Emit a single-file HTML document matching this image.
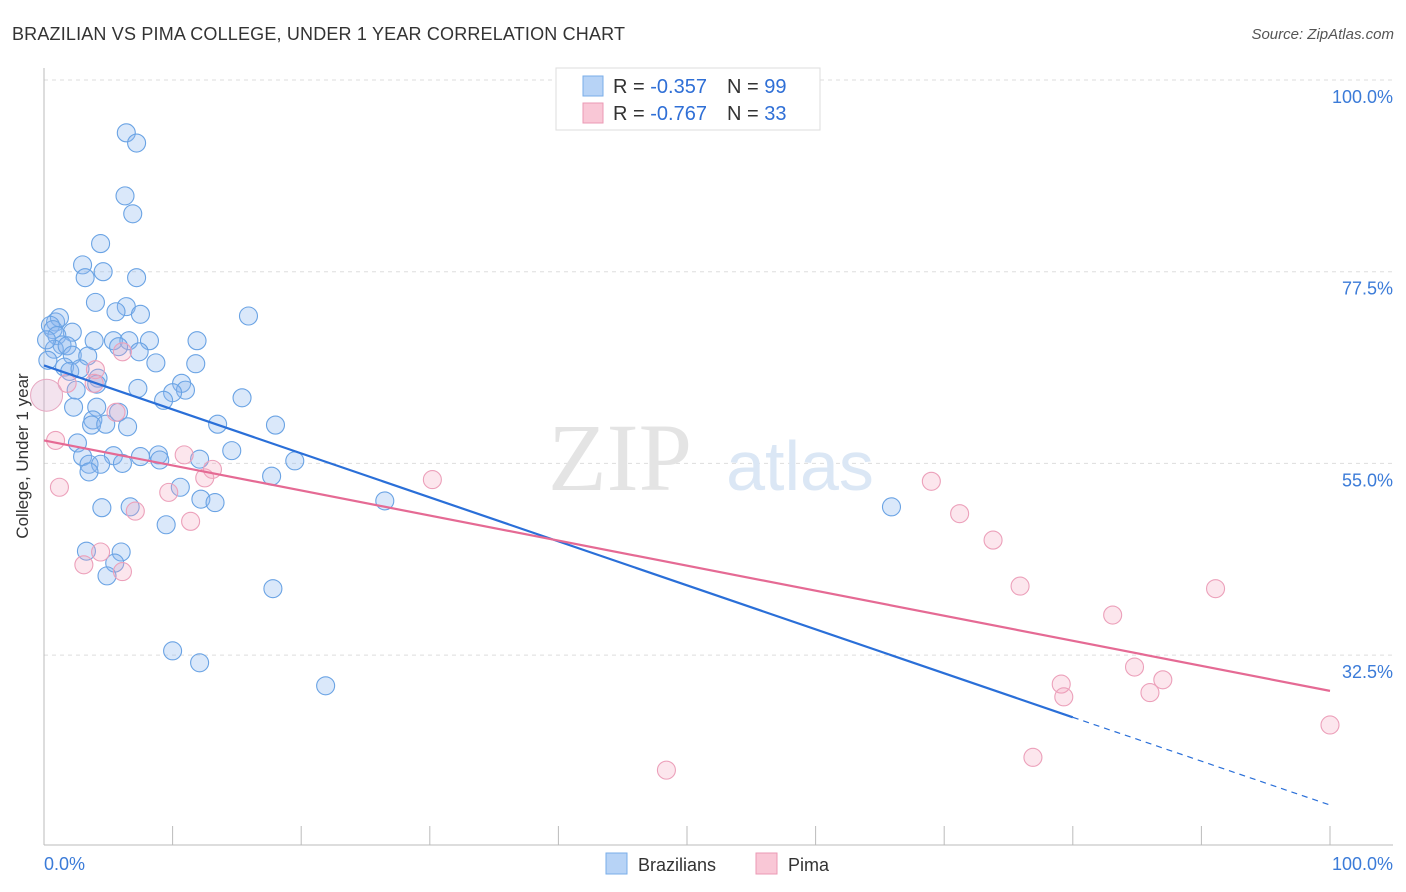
<!DOCTYPE html>
<html><head><meta charset="utf-8"><style>
body{margin:0;background:#fff;font-family:"Liberation Sans",sans-serif}
svg{display:block}
</style></head><body>
<svg id="chart" width="1406" height="892" xmlns="http://www.w3.org/2000/svg">
<text x="12" y="40" font-size="18" fill="#333" textLength="613">BRAZILIAN VS PIMA COLLEGE, UNDER 1 YEAR CORRELATION CHART</text>
<text x="1394" y="39" font-size="15" fill="#555" text-anchor="end" font-style="italic">Source: ZipAtlas.com</text>
<g id="grid"></g>
<text x="620" y="490" font-size="96" font-family="Liberation Serif,serif" fill="#e4e4e4" text-anchor="middle">ZIP</text>
<text x="800" y="490" font-size="70" fill="#dbe7f5" text-anchor="middle">atlas</text>
<g id="axes"></g>
<g id="pts"></g>
<g id="lines"></g>
<text x="28" y="456" font-size="17" fill="#333" text-anchor="middle" transform="rotate(-90 28 456)">College, Under 1 year</text>
<g>
<rect x="556" y="68" width="264" height="62" fill="#fff" stroke="#ddd"/>
<rect x="583" y="76" width="20" height="20" fill="#b7d3f6" stroke="#7aaee8"/>
<rect x="583" y="103" width="20" height="20" fill="#f9c7d6" stroke="#eb9ab4"/>
<text x="613" y="93" font-size="20" fill="#333">R = <tspan fill="#2f6fd6">-0.357</tspan><tspan dx="20">N = </tspan><tspan fill="#2f6fd6">99</tspan></text>
<text x="613" y="120" font-size="20" fill="#333">R = <tspan fill="#2f6fd6">-0.767</tspan><tspan dx="20">N = </tspan><tspan fill="#2f6fd6">33</tspan></text>
</g>
<g>
<rect x="606" y="853" width="21" height="21" fill="#b7d3f6" stroke="#7aaee8"/>
<text x="638" y="871" font-size="18" fill="#333">Brazilians</text>
<rect x="756" y="853" width="21" height="21" fill="#f9c7d6" stroke="#eb9ab4"/>
<text x="788" y="871" font-size="18" fill="#333">Pima</text>
</g>
</svg>
<script>
const yTicks=[100,77.5,55,32.5];
const yTickLabels=["100.0%","77.5%","55.0%","32.5%"];
const xTickLabels=["0.0%","100.0%"];
const brazX=[6.4,7.2,6.3,6.9,4.4,3.0,4.6,3.2,7.2,4.0,6.4,5.6,7.5,15.9,0.9,1.2,0.5,0.7,2.2,1.0,1.4,3.9,5.4,6.6,8.2,11.9,0.8,1.8,5.8,7.4,2.2,3.4,11.8,8.7,1.6,2.0,2.8,4.2,4.1,2.5,7.3,10.7,11.0,10.0,9.3,15.4,2.3,4.1,5.8,3.8,3.7,4.8,6.5,13.5,18.0,2.6,14.6,3.0,5.4,7.5,8.9,3.5,4.4,6.1,9.0,12.1,19.5,3.5,17.7,10.6,12.2,13.3,4.5,6.7,26.5,9.5,65.9,3.3,6.0,5.5,4.9,17.8,10.0,12.1,21.9,0.2,0.3];
const brazY=[93.8,92.6,86.4,84.3,80.8,78.3,77.5,76.8,76.8,73.9,73.4,72.8,72.5,72.3,71.6,72.1,71.2,70.7,70.4,70.0,68.9,69.4,69.4,69.4,69.4,69.4,68.4,68.8,68.7,68.1,67.7,67.6,66.7,66.8,66.3,65.8,66.1,65.0,64.3,63.6,63.8,64.4,63.6,63.3,62.4,62.7,61.6,61.6,61.0,60.1,59.5,59.6,59.3,59.6,59.5,57.4,56.5,55.8,55.9,55.8,56.0,54.9,54.9,55.0,55.4,55.5,55.3,54.0,53.5,52.2,50.8,50.4,49.8,49.9,50.6,47.8,49.9,44.7,44.6,43.3,41.8,40.3,33.0,31.6,28.9,69.5,67.1];
const pimaX=[0.9,1.2,3.1,4.4,6.1,1.8,4.0,5.6,6.1,3.9,7.1,9.7,10.9,13.1,12.5,11.4,30.2,48.4,69.0,71.2,73.8,75.9,76.9,79.1,79.3,83.1,84.8,86.0,87.0,91.1,100];
const pimaY=[57.7,52.2,43.1,44.6,42.3,64.4,66.0,61.0,68.1,64.4,49.4,51.6,56.0,54.3,53.3,48.2,53.1,19.0,52.9,49.1,46.0,40.6,20.5,29.1,27.6,37.2,31.1,28.1,29.6,40.3,24.3];
const brazTrend=[66.5,25.2,14.9];
const pimaTrend=[57.7,28.3];
const NS="http://www.w3.org/2000/svg";
const sx=v=>44+v*12.86, sy=v=>80+(100-v)*8.52;
function mk(tag,attrs,parent){const e=document.createElementNS(NS,tag);for(const k in attrs)e.setAttribute(k,attrs[k]);parent.appendChild(e);return e;}
const grid=document.getElementById('grid'),axes=document.getElementById('axes'),pts=document.getElementById('pts'),lines=document.getElementById('lines');
yTicks.forEach((t,i)=>{
 const l=mk('line',{x1:44,x2:1393,y1:sy(t),y2:sy(t),stroke:'#ddd','stroke-dasharray':'4,4'},grid);
 
 
 const tx=mk('text',{x:1393,y:sy(t)+23,'font-size':18,fill:'#3b7bd8','text-anchor':'end'},axes);
 tx.textContent=yTickLabels[i];
 
 
});
mk('line',{x1:44,x2:44,y1:68,y2:845,stroke:'#bbb'},axes);
mk('line',{x1:44,x2:1393,y1:845,y2:845,stroke:'#bbb'},axes);
for(let i=0;i<=10;i++){const x=sx(i*10);mk('line',{x1:x,x2:x,y1:826,y2:845,stroke:'#bbb'},axes);}
[[0,'start'],[100,'end']].forEach((p,i)=>{
 const tx=mk('text',{x:i?1393:44,y:870,'font-size':18,fill:'#3b7bd8','text-anchor':p[1]},axes);
 tx.textContent=xTickLabels[i];
 
 
});
brazX.forEach((v,i)=>{
 const c=mk('circle',{cx:sx(v),cy:sy(brazY[i]),r:9,fill:'rgba(140,185,240,0.32)',stroke:'#6aa3e4','stroke-width':1.1},pts);
 
 
});
pimaX.forEach((v,i)=>{
 const c=mk('circle',{cx:sx(v),cy:sy(pimaY[i]),r:9,fill:'rgba(244,165,192,0.28)',stroke:'#eca0ba','stroke-width':1.1},pts);
 
 
});
const big=mk('circle',{cx:sx(0.2),cy:sy(63),r:16,fill:'rgba(220,175,205,0.35)',stroke:'#e6a6c0'},pts);


const b1=mk('line',{x1:sx(0),y1:sy(brazTrend[0]),x2:sx(80),y2:sy(brazTrend[1]),stroke:'#2a6fd8','stroke-width':2.2},lines);


const b2=mk('line',{x1:sx(80),y1:sy(brazTrend[1]),x2:sx(100),y2:sy(brazTrend[2]),stroke:'#2a6fd8','stroke-width':1.2,'stroke-dasharray':'6,5'},lines);


const p1=mk('line',{x1:sx(0),y1:sy(pimaTrend[0]),x2:sx(100),y2:sy(pimaTrend[1]),stroke:'#e56a94','stroke-width':2.2},lines);


</script>
</body></html>
